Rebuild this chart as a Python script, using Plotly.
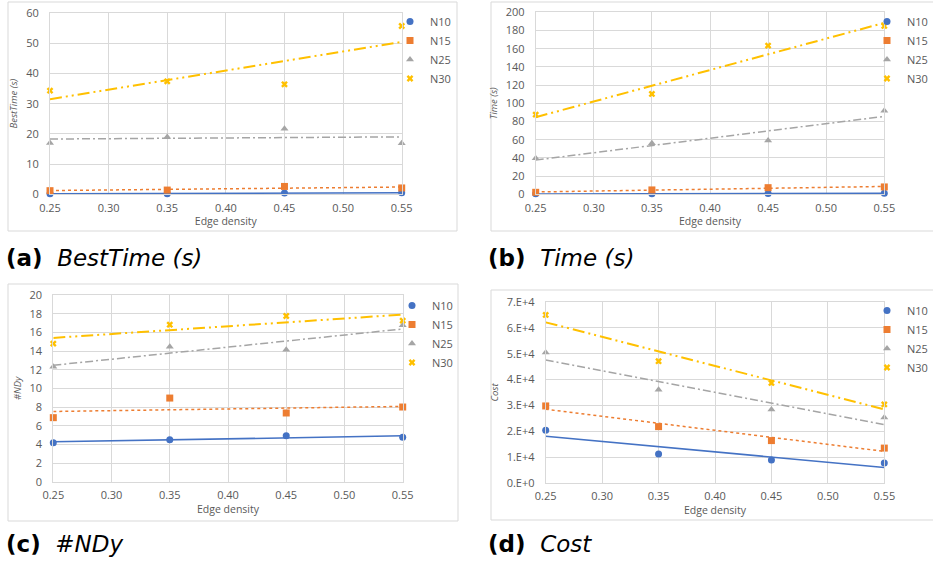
import numpy as np
import plotly.graph_objects as go

# ---------------- data ----------------
density = [0.25, 0.35, 0.45, 0.55]
series_names = ["N10", "N15", "N25", "N30"]

besttime_N10 = [0.2, 0.2, 0.4, 0.5]
besttime_N15 = [1.2, 1.4, 2.6, 2.1]
besttime_N25 = [17.0, 19.0, 21.7, 16.9]
besttime_N30 = [34.3, 37.4, 36.4, 55.7]

time_N10 = [0.5, 0.6, 0.9, 1.2]
time_N15 = [2.2, 4.8, 7.3, 8.1]
time_N25 = [39.6, 56.0, 59.0, 91.9]
time_N30 = [87.5, 110.3, 163.4, 185.0]

ndy_N10 = [4.18, 4.5, 4.93, 4.75]
ndy_N15 = [6.86, 8.96, 7.36, 8.0]
ndy_N25 = [12.32, 14.46, 14.14, 16.75]
ndy_N30 = [14.79, 16.82, 17.75, 17.25]

cost_N10 = [20400, 11200, 8900, 7700]
cost_N15 = [29800, 21800, 16400, 13500]
cost_N25 = [50500, 36100, 28400, 25300]
cost_N30 = [65000, 47100, 38700, 30400]

x_ticks = [0.25, 0.30, 0.35, 0.40, 0.45, 0.50, 0.55]
cost_ticks = [0, 10000, 20000, 30000, 40000, 50000, 60000, 70000]
cost_tick_labels = ["0.E+0", "1.E+4", "2.E+4", "3.E+4", "4.E+4", "5.E+4", "6.E+4", "7.E+4"]

# ---------------- styles ----------------
W, H = 933, 574
colors = ["#4472C4", "#ED7D31", "#A5A5A5", "#FFC000"]
symbols = ["circle", "square", "triangle-up", "x"]
dashes = ["solid", "dot", "8px,3px,2px,3px", "12px,4px,2px,4px,2px,4px"]
dash_widths = [1.5, 1.5, 1.5, 2]
font_fam = "Open Sans, Liberation Sans, sans-serif"
tick_col = "#595959"
grid_col = "#D9D9D9"

# legend = (x px, top px, anchor)
panels = [
    dict(data=[besttime_N10, besttime_N15, besttime_N25, besttime_N30], ytitle="BestTime (s)",
         yrange=[0, 60], dtick=10, xdom=(50, 401.7), ydom=(13, 194.3),
         legend=(390, 7, "left"), box=(8, 2, 457, 231), cap="(a)", capname="BestTime (s)", cappos=(4, 258)),
    dict(data=[time_N10, time_N15, time_N25, time_N30], ytitle="Time (s)",
         yrange=[0, 200], dtick=20, xdom=(535.7, 884.3), ydom=(12.3, 194.3),
         legend=(933, 7, "right"), box=(491, 2, 940, 231), cap="(b)", capname="Time (s)", cappos=(486, 258)),
    dict(data=[ndy_N10, ndy_N15, ndy_N25, ndy_N30], ytitle="#NDy",
         yrange=[0, 20], dtick=2, xdom=(53.3, 402.7), ydom=(295, 481.7),
         legend=(392, 291, "left"), box=(8, 284, 458, 521), cap="(c)", capname="#NDy", cappos=(4, 544)),
    dict(data=[cost_N10, cost_N15, cost_N25, cost_N30], ytitle="Cost",
         yrange=[0, 70000], dtick=10000, xdom=(545.7, 884.3), ydom=(302, 483),
         legend=(933, 296, "right"), box=(491, 290, 940, 520), cap="(d)", capname="Cost", cappos=(486, 544)),
]

fig = go.Figure()
shapes = []
annotations = []
xfit = np.array([density[0], density[-1]])

for i, p in enumerate(panels):
    k = "" if i == 0 else str(i + 1)
    xa, ya = "x" + k, "y" + k
    leg = "legend" + k
    for j, name in enumerate(series_names):
        yv = p["data"][j]
        coef = np.polyfit(density, yv, 1)
        fig.add_trace(go.Scatter(
            x=xfit, y=np.polyval(coef, xfit), mode="lines", xaxis=xa, yaxis=ya,
            line=dict(color=colors[j], width=dash_widths[j], dash=dashes[j]),
            showlegend=False, hoverinfo="skip"))
    for j, name in enumerate(series_names):
        yv = p["data"][j]
        fig.add_trace(go.Scatter(
            x=density, y=yv, mode="markers", name=name, xaxis=xa, yaxis=ya, legend=leg,
            cliponaxis=False,
            marker=dict(color=colors[j], symbol=symbols[j], size=7 if j < 3 else 6,
                        line=dict(width=0))))

    x0, x1 = p["xdom"]
    yt, yb = p["ydom"]
    axis_common = dict(showgrid=True, gridcolor=grid_col, gridwidth=1, zeroline=False,
                       showline=True, linecolor=grid_col, mirror=True, automargin=False,
                       tickfont=dict(family=font_fam, size=11, color=tick_col))
    fig.layout["xaxis" + k] = dict(
        domain=[x0 / W, x1 / W], anchor=ya, range=[0.25, 0.55], tickvals=x_ticks,
        tickformat=".2f", ticklabelstandoff=3,
        title=dict(text="Edge density", font=dict(family=font_fam, size=10.5, color=tick_col), standoff=0),
        **axis_common)
    yax = dict(domain=[1 - yb / H, 1 - yt / H], anchor=xa, range=p["yrange"], dtick=p["dtick"],
               ticklabelstandoff=8,
               title=dict(text="<i>" + p["ytitle"] + "</i>",
                          font=dict(family=font_fam, size=9.5, color=tick_col), standoff=6),
               **axis_common)
    if i == 3:
        yax.update(tickvals=cost_ticks, ticktext=cost_tick_labels)
        yax.pop("dtick")
    fig.layout["yaxis" + k] = yax

    lx, ly, lanchor = p["legend"]
    fig.layout[leg] = dict(x=lx / W, y=1 - ly / H, xanchor=lanchor, yanchor="top",
                           bgcolor="rgba(0,0,0,0)", itemwidth=30, tracegroupgap=0,
                           font=dict(family=font_fam, size=11, color=tick_col))

    bx0, by0, bx1, by1 = p["box"]
    shapes.append(dict(type="rect", xref="paper", yref="paper",
                       x0=bx0 / W, x1=bx1 / W, y0=1 - by1 / H, y1=1 - by0 / H,
                       line=dict(color=grid_col, width=1), fillcolor="rgba(0,0,0,0)", layer="below"))
    cx, cy = p["cappos"]
    annotations.append(dict(xref="paper", yref="paper", x=cx / W, y=1 - cy / H,
                            xanchor="left", yanchor="middle", showarrow=False,
                            text="<b>" + p["cap"] + "</b>  <i>" + p["capname"] + "</i>",
                            font=dict(family="DejaVu Sans, sans-serif", size=23, color="#000000")))

fig.update_layout(width=W, height=H, margin=dict(l=0, r=0, t=0, b=0),
                  paper_bgcolor="white", plot_bgcolor="white",
                  shapes=shapes, annotations=annotations)

fig.write_html("out.html", config={"displayModeBar": False},
               post_script="document.body.style.margin='0';document.body.style.overflow='hidden';")
